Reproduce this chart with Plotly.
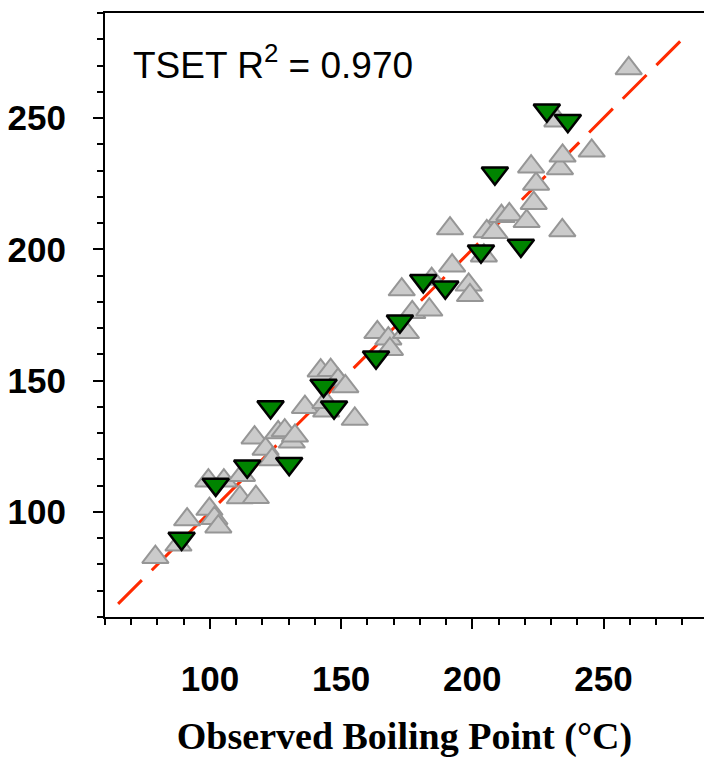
import plotly.graph_objects as go

# Gray upward triangles (observed vs predicted boiling point)
gray_x = [79.2, 88.0, 91.3, 99.8, 101.7, 103.2, 99.4, 105.3, 111.4, 117.5,
          112.2, 117.0, 121.2, 123.7, 126.0, 128.5, 131.2, 132.4, 136.2, 142.2,
          146.0, 148.8, 151.6, 144.3, 144.0, 155.2, 163.8, 168.0, 168.6, 174.7,
          173.1, 177.1, 183.6, 184.5, 191.5, 192.3, 198.6, 199.1, 204.4, 205.5,
          208.4, 211.1, 214.1, 220.7, 223.4, 224.3, 222.4, 233.4, 234.4, 234.3,
          245.5, 232.4, 259.6]
gray_y = [82.8, 87.5, 97.1, 101.1, 97.6, 94.4, 111.9, 111.9, 105.5, 105.6,
          114.0, 128.3, 124.0, 120.0, 130.3, 131.0, 126.7, 129.0, 139.9, 153.8,
          154.0, 150.3, 147.8, 138.5, 141.8, 135.4, 168.4, 166.0, 162.0, 168.4,
          184.7, 176.0, 177.0, 188.7, 207.9, 193.8, 186.5, 182.5, 197.6, 206.8,
          206.5, 212.6, 213.3, 210.7, 217.6, 224.9, 231.5, 230.8, 235.6, 207.2,
          237.5, 249.0, 268.9]

# Green downward triangles
green_x = [89.2, 102.2, 114.2, 130.2, 123.1, 143.3, 147.3, 163.3, 172.4, 181.3,
           189.7, 203.3, 218.5, 208.6, 228.4, 236.4]
green_y = [89.9, 110.5, 117.4, 118.4, 140.0, 148.2, 139.9, 158.9, 172.6, 188.0,
           185.6, 199.3, 201.5, 229.0, 253.0, 249.0]

# 1:1 reference line
line_x = [65, 279.5]
line_y = [65, 279.5]

x_ticks = [100, 150, 200, 250]
y_ticks = [100, 150, 200, 250]

fig = go.Figure()
fig.add_trace(go.Scatter(
    x=line_x, y=line_y, mode="lines",
    line=dict(color="#FF2A00", width=3, dash="33.6px,14px"),
    hoverinfo="skip", showlegend=False))
fig.add_trace(go.Scatter(
    x=gray_x, y=gray_y, mode="markers",
    marker=dict(symbol="triangle-up", size=23, color="#CBCBCB",
                line=dict(color="#969696", width=2)),
    showlegend=False))
fig.add_trace(go.Scatter(
    x=green_x, y=green_y, mode="markers",
    marker=dict(symbol="triangle-down", size=23, color="#008400",
                line=dict(color="#000000", width=2.5)),
    showlegend=False))

tickfont = dict(family="Liberation Sans, Arial, sans-serif", size=35,
                color="black", weight="bold")

fig.update_xaxes(
    range=[60, 288.3], showgrid=False, zeroline=False,
    showline=True, linecolor="black", linewidth=2, mirror=True,
    ticks="outside", ticklen=10, tickwidth=2, tickcolor="black",
    tickvals=x_ticks, tickfont=tickfont, ticklabelstandoff=20,
    minor=dict(dtick=10, tick0=0, ticks="outside", ticklen=6, tickwidth=2,
               tickcolor="black"),
    title=dict(text="Observed Boiling Point (°C)", standoff=28,
               font=dict(family="Liberation Serif, Times New Roman, serif",
                         size=38, color="black", weight="bold")))
fig.update_yaxes(
    range=[60, 290], showgrid=False, zeroline=False,
    showline=True, linecolor="black", linewidth=2, mirror=False,
    ticks="outside", ticklen=10, tickwidth=2, tickcolor="black",
    tickvals=y_ticks, tickfont=tickfont, ticklabelstandoff=20,
    minor=dict(dtick=10, tick0=0, ticks="outside", ticklen=6, tickwidth=2,
               tickcolor="black"))

fig.add_annotation(
    text="TSET R<sup>2</sup> = 0.970", xref="paper", yref="paper",
    x=0.044, y=0.918, xanchor="left", yanchor="middle", showarrow=False,
    font=dict(family="Liberation Sans, Arial, sans-serif", size=37, color="black"))

fig.update_layout(
    width=704, height=758,
    margin=dict(l=105, r=0, t=13, b=141),
    paper_bgcolor="white", plot_bgcolor="white",
    showlegend=False)

fig.write_html("out.html")
